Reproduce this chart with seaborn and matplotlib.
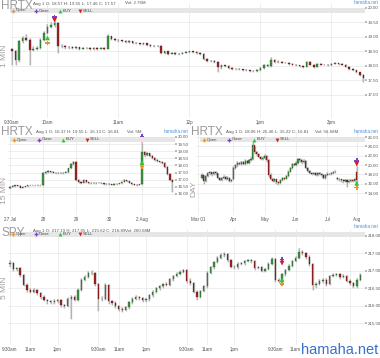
import numpy as np
import pandas as pd
import seaborn as sns
import matplotlib.pyplot as plt
from matplotlib.lines import Line2D
from matplotlib.patches import Rectangle

# ---- HRTX 1 MIN (3-minute steps from 9:30am) ----
c1 = [18.50, 18.20, 18.85, 18.95, 18.90, 18.55, 18.60, 18.62, 18.90, 19.15,
      19.35, 19.42, 19.48, 18.70, 18.68, 18.65, 18.66, 18.62, 18.64, 18.60,
      18.63, 18.61, 18.58, 18.62, 18.60, 18.62, 18.60, 19.05, 18.92, 18.90,
      18.88, 18.85, 18.83, 18.85, 18.80, 18.78, 18.75, 18.78, 18.72, 18.70,
      18.68, 18.70, 18.45, 18.50, 18.42, 18.45, 18.40, 18.43, 18.46, 18.48,
      18.50, 18.48, 18.45, 18.42, 18.25, 18.18, 18.17, 18.15, 17.95, 18.02,
      18.00, 17.92, 17.90, 17.90, 17.88, 17.87, 17.85, 17.82, 17.82, 17.85,
      17.92, 18.05, 18.00, 18.22, 18.15, 18.15, 18.12, 18.12, 18.08, 18.05,
      18.02, 18.00, 17.98, 18.15, 18.05, 17.97, 18.08, 18.05, 18.05, 18.03,
      18.08, 18.10, 18.07, 18.05, 17.98, 17.90, 17.85, 17.78, 17.70, 17.57]
h1 = [18.62, 18.55, 18.90, 19.05, 19.10, 18.95, 18.70, 18.68, 18.95, 19.20,
      19.45, 19.50, 19.55, 19.50, 18.75, 18.72, 18.70, 18.68, 18.68, 18.67,
      18.66, 18.66, 18.64, 18.65, 18.66, 18.65, 18.66, 19.10, 19.05, 18.95,
      18.93, 18.91, 18.88, 18.88, 18.87, 18.83, 18.80, 18.81, 18.80, 18.75,
      18.73, 18.73, 18.72, 18.53, 18.52, 18.48, 18.47, 18.46, 18.49, 18.51,
      18.53, 18.53, 18.50, 18.47, 18.44, 18.27, 18.21, 18.19, 18.17, 18.05,
      18.05, 18.02, 17.95, 17.93, 17.92, 17.91, 17.89, 17.87, 17.85, 17.88,
      17.95, 18.08, 18.07, 18.30, 18.24, 18.19, 18.17, 18.15, 18.14, 18.10,
      18.07, 18.04, 18.02, 18.18, 18.16, 18.07, 18.11, 18.10, 18.08, 18.07,
      18.11, 18.13, 18.12, 18.09, 18.07, 18.00, 17.92, 17.87, 17.80, 17.72]
l1 = [18.05, 18.05, 18.15, 18.80, 18.85, 18.05, 18.50, 18.55, 18.58, 18.85,
      19.10, 19.30, 19.35, 18.45, 18.62, 18.60, 18.60, 18.58, 18.58, 18.56,
      18.57, 18.57, 18.54, 18.55, 18.56, 18.57, 18.56, 18.58, 18.88, 18.86,
      18.84, 18.82, 18.80, 18.80, 18.77, 18.75, 18.72, 18.72, 18.70, 18.67,
      18.65, 18.65, 18.40, 18.42, 18.38, 18.40, 18.37, 18.38, 18.41, 18.44,
      18.46, 18.45, 18.42, 18.39, 18.22, 18.15, 18.14, 18.12, 17.80, 17.90,
      17.96, 17.89, 17.87, 17.86, 17.85, 17.84, 17.82, 17.79, 17.78, 17.80,
      17.83, 17.90, 17.97, 17.98, 18.12, 18.11, 18.09, 18.09, 18.05, 18.02,
      17.99, 17.97, 17.94, 17.96, 18.02, 17.94, 17.95, 18.02, 18.02, 18.00,
      18.01, 18.06, 18.04, 18.02, 17.95, 17.87, 17.82, 17.75, 17.66, 17.46]
open1 = 18.57
ticks1 = [0, 10, 30, 50, 70, 90]
labels1 = ['9:30am', '10am', '11am', '12p', '1pm', '2pm']

# ---- HRTX 15 MIN (13 bars per day) ----
c2 = [16.50, 16.55, 16.60, 16.58, 16.45, 16.50, 16.55, 16.60, 16.62, 16.60, 16.63, 16.62, 16.60,
      17.45, 17.55, 17.58, 17.55, 17.50, 17.45, 17.48, 17.45, 17.50, 17.55, 17.80, 18.10, 18.27,
      17.00, 16.85, 16.80, 16.95, 16.82, 16.78, 16.80, 16.75, 16.80, 16.78, 16.75, 16.70, 16.72,
      16.70, 16.65, 16.72, 16.70, 16.75, 16.85, 16.98, 16.90, 16.80, 16.70, 16.65, 16.62, 16.68,
      18.95, 18.75, 18.85, 18.70, 18.55, 18.40, 18.30, 18.25, 18.20, 17.90, 17.40, 17.00, 16.81]
h2 = [16.58, 16.60, 16.65, 16.64, 16.60, 16.54, 16.58, 16.63, 16.66, 16.65, 16.66, 16.66, 16.65,
      17.55, 17.62, 17.65, 17.62, 17.58, 17.53, 17.53, 17.52, 17.55, 17.60, 17.85, 18.15, 18.35,
      18.30, 17.05, 16.90, 17.02, 16.98, 16.86, 16.85, 16.84, 16.84, 16.84, 16.82, 16.78, 16.76,
      16.76, 16.73, 16.76, 16.76, 16.79, 16.89, 17.02, 17.00, 16.93, 16.83, 16.73, 16.68, 16.72,
      19.55, 19.05, 18.95, 18.90, 18.75, 18.60, 18.45, 18.35, 18.30, 18.22, 17.95, 17.45, 17.05]
l2 = [16.35, 16.47, 16.52, 16.54, 16.40, 16.42, 16.47, 16.52, 16.57, 16.56, 16.57, 16.58, 16.55,
      16.58, 17.40, 17.50, 17.50, 17.44, 17.38, 17.40, 17.40, 17.42, 17.47, 17.50, 17.75, 18.05,
      16.90, 16.78, 16.72, 16.76, 16.78, 16.72, 16.73, 16.70, 16.72, 16.74, 16.70, 16.65, 16.66,
      16.64, 16.60, 16.62, 16.66, 16.67, 16.72, 16.82, 16.86, 16.76, 16.66, 16.60, 16.58, 16.60,
      16.65, 18.60, 18.70, 18.62, 18.48, 18.33, 18.22, 18.18, 18.12, 17.82, 17.30, 16.90, 16.13]
open2 = 16.40
ticks2 = [0, 13, 26, 39, 52]
labels2 = ['27 Jul', '28', '29', '30', '2 Aug']

# ---- HRTX DAY ----
o3 = [17.2, 17.8, 16.5, 17.6, 18.2, 18.4, 18.0, 18.5, 18.2, 17.3,
      16.8, 17.2, 17.4, 17.0, 17.3, 16.6, 17.0, 19.4, 19.9, 20.5,
      20.2, 20.6, 20.3, 20.8, 20.5, 21.0, 21.3, 24.2, 22.8, 22.3,
      21.8, 21.3, 21.6, 21.9, 21.0, 17.8, 17.0, 16.6, 16.9, 16.3,
      16.1, 16.8, 17.2, 17.0, 17.6, 18.6, 19.3, 20.2, 20.0, 20.4,
      21.2, 21.0, 20.6, 20.9, 19.4, 18.8, 18.3, 18.0, 18.2, 17.9,
      18.3, 18.0, 17.8, 17.3, 17.9, 18.1, 18.0, 18.3, 18.4, 17.2,
      17.0, 16.9, 16.7, 16.5, 16.8, 16.3, 16.6, 16.7, 16.5, 18.57]
c3 = [17.8, 16.5, 17.6, 18.2, 18.4, 18.0, 18.5, 18.2, 17.3, 16.8,
      17.2, 17.4, 17.0, 17.3, 16.6, 16.8, 19.4, 19.9, 20.5, 20.2,
      20.6, 20.3, 20.8, 20.5, 21.0, 21.3, 24.2, 22.8, 22.3, 21.8,
      21.3, 21.6, 21.9, 21.0, 17.8, 17.0, 16.6, 16.9, 16.3, 16.1,
      16.8, 17.2, 17.0, 17.6, 18.6, 19.3, 20.2, 20.0, 20.4, 21.2,
      21.0, 20.6, 20.9, 19.4, 18.8, 18.3, 18.0, 18.2, 17.9, 18.3,
      18.0, 17.8, 17.3, 17.9, 18.1, 18.0, 18.3, 18.4, 18.5, 17.0,
      16.9, 16.7, 16.5, 16.8, 16.3, 16.6, 16.7, 16.5, 16.9, 16.81]
h3 = [18.3, 17.9, 17.9, 18.6, 18.8, 18.6, 18.8, 18.7, 18.3, 17.5,
      17.5, 17.8, 17.6, 17.6, 17.4, 17.1, 19.7, 20.3, 20.8, 20.7,
      20.9, 20.8, 21.2, 21.0, 21.3, 21.7, 25.46, 24.0, 23.0, 22.6,
      22.0, 21.9, 22.3, 22.1, 21.2, 18.2, 17.3, 17.2, 17.0, 16.6,
      17.1, 17.5, 17.4, 17.9, 18.9, 19.6, 20.5, 20.5, 20.8, 21.5,
      21.5, 21.2, 21.2, 21.0, 19.6, 19.0, 18.6, 18.5, 18.4, 18.5,
      18.5, 18.2, 18.0, 18.1, 18.4, 18.3, 18.6, 18.7, 18.9, 17.5,
      17.3, 17.1, 16.9, 17.1, 16.9, 16.9, 17.0, 16.9, 17.2, 19.8]
l3 = [16.9, 16.0, 16.3, 17.4, 17.9, 17.7, 17.8, 17.9, 17.0, 16.5,
      16.6, 17.0, 16.8, 16.8, 16.3, 16.4, 16.8, 19.1, 19.6, 19.9,
      19.9, 20.0, 20.1, 20.2, 20.3, 20.8, 21.1, 22.4, 21.9, 21.4,
      21.0, 21.0, 21.3, 20.7, 17.5, 16.7, 16.3, 16.4, 15.9, 15.8,
      16.0, 16.6, 16.7, 16.9, 17.4, 18.4, 19.1, 19.7, 19.8, 20.2,
      20.7, 20.3, 20.4, 19.2, 18.6, 18.1, 17.8, 17.8, 17.7, 17.7,
      17.8, 17.5, 16.9, 17.1, 17.7, 17.8, 17.9, 18.1, 18.2, 16.8,
      16.6, 16.4, 16.2, 16.3, 15.22, 16.1, 16.4, 16.3, 16.4, 16.2]
ticks3 = [-2, 16, 32, 48, 64, 79]
labels3 = ['Mar 01', 'Apr', 'May', 'Jun', 'Jul', 'Aug']

# ---- SPY 5 MIN (26 bars per day) ----
c4 = [217.22, 217.05, 217.07, 216.88, 216.60, 216.45, 216.40, 216.45, 216.35, 216.26,
      216.17, 216.12, 216.10, 216.13, 216.15, 216.02, 216.00, 216.20, 216.26, 216.17,
      216.45, 216.74, 216.83, 216.95, 216.93, 216.62,
      216.20, 216.20, 216.60, 216.12, 216.08, 215.98, 215.90, 215.88, 215.95, 216.10,
      216.20, 216.25, 216.22, 216.15, 216.18, 216.30, 216.40, 216.50, 216.55, 216.62,
      216.60, 216.75, 216.85, 216.92, 216.97, 217.02,
      216.72, 216.65, 216.40, 216.26, 216.42, 216.55, 216.95, 217.10, 217.25, 217.38,
      217.45, 217.48, 217.30, 217.12, 217.10, 217.20, 217.22, 217.28, 217.30, 217.28,
      217.08, 217.10, 217.00, 217.05, 217.20, 217.35,
      216.74, 216.70, 216.90, 217.02, 217.15, 217.28, 217.38, 217.55, 217.50, 217.40,
      217.20, 216.58, 216.62, 216.70, 216.74, 216.62, 216.85, 216.88, 216.90, 216.82,
      216.85, 216.72, 216.65, 216.55, 216.74, 216.89]
h4 = [217.30, 217.26, 217.12, 217.10, 216.92, 216.64, 216.50, 216.52, 216.48, 216.38,
      216.30, 216.20, 216.16, 216.18, 216.20, 216.18, 216.06, 216.24, 216.30, 216.30,
      216.50, 216.80, 216.88, 217.00, 217.02, 216.96,
      216.66, 216.28, 216.66, 216.62, 216.16, 216.12, 216.02, 215.95, 216.00, 216.14,
      216.24, 216.30, 216.29, 216.26, 216.22, 216.34, 216.44, 216.54, 216.60, 216.66,
      216.67, 216.79, 216.89, 216.96, 217.01, 217.06,
      217.05, 216.78, 216.68, 216.44, 216.46, 216.59, 216.99, 217.14, 217.29, 217.42,
      217.50, 217.53, 217.52, 217.34, 217.16, 217.24, 217.26, 217.32, 217.34, 217.34,
      217.31, 217.14, 217.14, 217.09, 217.24, 217.39,
      217.38, 216.80, 216.94, 217.06, 217.19, 217.32, 217.42, 217.65, 217.60, 217.54,
      217.44, 217.22, 216.68, 216.75, 216.78, 216.78, 216.89, 216.93, 216.95, 216.94,
      216.90, 216.88, 216.76, 216.68, 216.78, 216.93]
l4 = [217.12, 216.98, 217.00, 216.82, 216.55, 216.40, 216.35, 216.37, 216.30, 216.20,
      216.12, 216.06, 216.04, 216.06, 216.08, 215.97, 215.94, 215.96, 215.62, 216.12,
      216.14, 216.42, 216.70, 216.80, 216.88, 216.57,
      215.85, 216.12, 216.15, 216.05, 216.02, 215.92, 215.84, 215.82, 215.84, 215.91,
      216.05, 216.16, 216.17, 216.10, 216.11, 216.14, 216.26, 216.36, 216.46, 216.51,
      216.55, 216.56, 216.71, 216.81, 216.88, 216.93,
      216.66, 216.58, 216.35, 216.17, 216.22, 216.38, 216.51, 216.91, 217.06, 217.21,
      217.34, 217.41, 217.25, 217.07, 217.05, 217.06, 217.16, 217.18, 217.24, 217.23,
      217.03, 217.04, 216.96, 216.97, 217.01, 217.16,
      216.68, 216.64, 216.66, 216.86, 216.98, 217.11, 217.24, 217.34, 217.45, 217.35,
      217.15, 216.45, 216.52, 216.58, 216.66, 216.57, 216.58, 216.81, 216.84, 216.77,
      216.78, 216.67, 216.60, 216.50, 216.52, 216.70]
open4 = 217.19
ticks4 = [0, 6, 14, 26, 32, 40, 52, 58, 66, 78, 84, 92, 100]
labels4 = ['9:30am', '11am', '1pm', '9:30am', '11am', '1pm', '9:30am', '11am', '1pm',
           '9:30am', '11am', '1pm', '3pm']

# trade marks: (panel bar index, price) for Open, BUY, Close, SELL
kinds = ['Open', 'BUY', 'Close', 'SELL']
trade1 = [(10, 18.79), (10, 18.97), (12, 19.68), (12, 19.58)]
trade2 = [(52, 17.92), (52, 18.20), (52, 20.02), (52, 19.74)]
trade3 = [(79, 15.20), (79, 16.10), (79, 20.90), (79, 20.20)]
trade4 = [(80, 216.62), (80, 216.74), (80, 217.33), (80, 217.22)]

W, H = 380, 358
sns.set_theme(style="whitegrid")
plt.rcParams['font.family'] = ['Liberation Sans', 'DejaVu Sans']

mark_colors = {'Open': '#f0922a', 'Close': '#7b3fc4', 'BUY': '#2fc43a', 'SELL': '#d91e1e'}
mark_shapes = {'Open': 'P', 'Close': 'P', 'BUY': '^', 'SELL': 'v'}

fig = plt.figure(figsize=(W / 100, H / 100), dpi=100)
fig.patch.set_facecolor('white')


def fx(x):
    return x / W


def fy(y):
    return 1 - y / H


def panel(l, t, r, b, xlim, ylim, xticks, xlabels, yticks):
    ax = fig.add_axes([fx(l), fy(b), (r - l) / W, (b - t) / H])
    ax.set_facecolor('white')
    for s in ax.spines.values():
        s.set_visible(False)
    ax.set_xlim(xlim)
    ax.set_ylim(ylim)
    ax.set_xticks(xticks, xlabels)
    ax.set_yticks(yticks, [f'{v:.2f}' for v in yticks])
    ax.yaxis.tick_right()
    ax.tick_params(axis='x', labelsize=3.3, colors='#555555', length=0, pad=1.5)
    ax.tick_params(axis='y', labelsize=3.2, colors='#555555', length=1.2, pad=0.5)
    ax.tick_params(axis='y', color='#b0b0b0')
    ax.grid(True, color='#e8e8e8', lw=0.5)
    return ax


def candles(ax, opens, highs, lows, closes, width):
    df = pd.DataFrame({'o': opens, 'h': highs, 'l': lows, 'c': closes})
    df['x'] = np.arange(len(df))
    ax.vlines(df.x, df.l, df.h, color='#c4c4c4', lw=1.0, zorder=2)
    ax.vlines(df.x, df.l, df.h, color='#555555', lw=0.2, zorder=2)
    up = df[df.c >= df.o]
    dn = df[df.c < df.o]
    ax.bar(up.x, up.c - up.o, bottom=up.o, width=width, color='#3d9a3d',
           edgecolor='#1e3a1e', lw=0.2, zorder=3)
    ax.bar(dn.x, dn.o - dn.c, bottom=dn.c, width=width, color='#a52222',
           edgecolor='#3a1414', lw=0.2, zorder=3)


def trades(ax, pts):
    df = pd.DataFrame(pts, columns=['x', 'y'])
    df['kind'] = kinds
    sns.scatterplot(data=df, x='x', y='y', hue='kind', style='kind',
                    palette=mark_colors, markers=mark_shapes, s=12,
                    linewidth=0, legend=False, ax=ax, zorder=6)
    ax.set_xlabel('')
    ax.set_ylabel('')


def header(tx, ty, title, hx, hy, text, vx, vol, band, leg_y, leg_xs, bx, by):
    fig.text(fx(tx), fy(ty), title, fontsize=8.5, color='#9a9a9a', va='top', ha='left',
             family=['Liberation Sans Narrow', 'Liberation Sans', 'DejaVu Sans'])
    fig.text(fx(hx), fy(hy), text, fontsize=3.2, color='#555555', va='center')
    fig.text(fx(vx), fy(hy), vol, fontsize=3.2, color='#555555', va='center')
    fig.text(fx(bx), fy(by), 'hamaha.net', fontsize=3.3, color='#4a8fdc', va='center', ha='right')
    bl, bt, br, bb = band
    fig.add_artist(Rectangle((fx(bl), fy(bb)), (br - bl) / W, (bb - bt) / H,
                             transform=fig.transFigure, color='#e6e6e6', zorder=2, lw=0))
    for k, lx in zip(['Open', 'Close', 'BUY', 'SELL'], leg_xs):
        fig.add_artist(Line2D([fx(lx)], [fy(leg_y)], marker=mark_shapes[k], ms=2.8,
                              color=mark_colors[k], mew=0, transform=fig.transFigure, zorder=3))
        fig.text(fx(lx + 3), fy(leg_y), k, fontsize=3.1, color='#444444', va='center', zorder=3)


def side(x, y, text):
    fig.text(fx(x), fy(y), text, fontsize=6, color='#a0a0a0', rotation=90,
             ha='center', va='center')


# panel 1: HRTX 1 MIN
ax1 = panel(10, 3, 365, 118, (-0.56, 99.44), (16.207, 20.172), ticks1, labels1,
            [17.0, 17.5, 18.0, 18.5, 19.0, 19.5, 20.0])
candles(ax1, [open1] + c1[:-1], h1, l1, c1, 0.45)
trades(ax1, trade1)

# panel 2: HRTX 15 MIN
ax2 = panel(8, 131, 175, 215, (-0.79, 65.0), (14.526, 20.421), ticks2, labels2,
            [16.0, 16.5, 17.0, 17.5, 18.0, 18.5, 19.0, 19.5, 20.0])
candles(ax2, [open2] + c2[:-1], h2, l2, c2, 0.5)
trades(ax2, trade2)

# panel 3: HRTX DAY
ax3 = panel(196, 131, 365, 215, (-3.06, 83.2), (9.298, 27.285), ticks3, labels3,
            [14, 16, 18, 20, 22, 24, 26])
candles(ax3, o3, h3, l3, c3, 0.55)
trades(ax3, trade3)

# panel 4: SPY 5 MIN
ax4 = panel(8, 229, 365, 345, (-0.58, 104.4), (214.868, 218.201), ticks4, labels4,
            [215.5, 216.0, 216.5, 217.0, 217.5, 218.0])
candles(ax4, [open4] + c4[:-1], h4, l4, c4, 0.4)
trades(ax4, trade4)

header(1, 0, 'HRTX', 33, 3.5, 'Aug 1 O: 18.57 H: 19.55 L: 17.46 C: 17.57', 125, 'Vol: 2.76M',
       (10, 8, 365, 13), 10.5, [13, 36, 60, 80], 378, 3)
header(1, 126, 'HRTX', 36, 132, 'Aug 1 O: 16.37 H: 19.55 L: 16.13 C: 16.81', 127, 'Vol: 5M',
       (10, 137, 175, 142), 139.5, [14, 39, 63, 87], 188, 132)
header(191, 126, 'HRTX', 226, 132, 'Aug 1 O: 18.06 H: 25.46 L: 15.22 C: 16.81', 315, 'Vol: 56.68M',
       (200, 137, 365, 142), 139.5, [204, 229, 254, 277], 378, 132)
header(1, 227, 'SPY', 33, 231, 'Aug 1 O: 217.19 H: 217.65 L: 215.62 C: 216.89', 125, 'Vol: 260.08M',
       (10, 232, 365, 236.5), 234.2, [13, 36, 60, 80], 378, 227)

side(5, 56, '1 MIN')
side(5, 190, '15 MIN')
side(194, 189, 'DAY')
side(5, 288, '5 MIN')

fig.text(fx(378), fy(357), 'hamaha.net', fontsize=10.5, color='#3a6fd0', ha='right', va='bottom',
         bbox=dict(facecolor='white', edgecolor='none', pad=0.5), zorder=5)

fig.savefig('out.png', dpi=100, facecolor='white')
